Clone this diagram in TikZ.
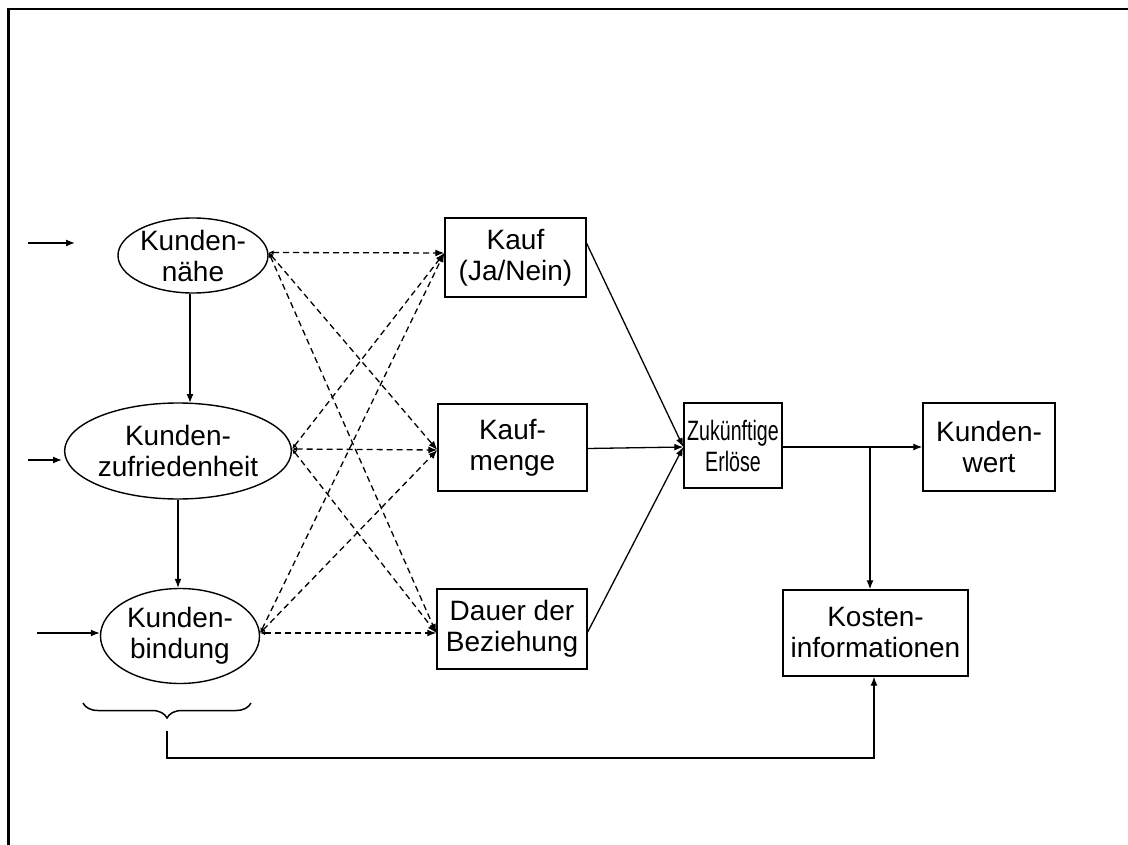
\documentclass[tikz,border=0pt]{standalone}
\usepackage{fontspec}
\setmainfont{Liberation Sans}
\usetikzlibrary{arrows.meta,shapes.geometric,decorations.pathreplacing}
\begin{document}
\begin{tikzpicture}[x=1pt,y=-1pt,
  every node/.style={font=\fontsize{28}{31}\selectfont, align=center, inner sep=0pt},
  oval/.style={draw, ellipse, line width=1.4pt},
  box/.style={draw, rectangle, line width=1.4pt},
  conn/.style={line width=1.3pt, -{Latex[length=9pt,width=7pt]}},
  dconn/.style={line width=1.3pt, dash pattern=on 6pt off 4pt,
    {Latex[length=5pt,width=4.5pt]}-{Latex[length=9pt,width=7pt]}}
]
\useasboundingbox (0,0) rectangle (1128,845);
% frame edges
\draw[line width=3pt] (8,845) -- (8,9);
\draw[line width=2.5pt] (6.5,9) -- (1128,9);

% drivers
\node[oval, minimum width=150pt, minimum height=75pt] (nah) at (193,255.5) {Kunden-\\nähe};
\node[oval, minimum width=197pt, minimum height=96pt] (zuf) at (178,451) {Kunden-\\zufriedenheit};
\node[oval, minimum width=159pt, minimum height=95pt] (bin) at (180,636) {Kunden-\\bindung};

% outcome boxes
\node[box, minimum width=141pt, minimum height=79pt] (kauf) at (515.5,257.5) {Kauf\\(Ja/Nein)};
\node[box, minimum width=149pt, minimum height=87pt] (menge) at (512.5,447.5) {Kauf-\\menge};
\node[box, minimum width=150pt, minimum height=80pt] (dauer) at (512,629) {Dauer der\\Beziehung};
\node[box, minimum width=98pt, minimum height=85pt] (erl) at (733,445.5) {\scalebox{0.7}[1]{Zukünftige}\\\scalebox{0.7}[1]{Erlöse}};
\node[box, minimum width=132pt, minimum height=88pt] (wert) at (989,447) {Kunden-\\wert};
\node[box, minimum width=185pt, minimum height=86pt] (kost) at (875.5,633) {Kosten-\\informationen};

% incoming arrows
\coordinate (in1) at (28,243);
\coordinate (in2) at (28,460);
\coordinate (in3) at (37,633);
\draw[conn] (in1) -- (75,243);
\draw[conn] (in2) -- (62,460);
\draw[conn] (in3) -- (bin.west |- in3);

% vertical chain
\draw[conn] (nah.south -| 190,0) -- (190,403);
\draw[conn] (zuf.south) -- (zuf.south |- bin.north);

% dashed influences
\foreach \s/\sy in {nah/3, zuf/2, bin/3}{
  \draw[dconn] ([yshift=\sy pt]\s.east) -- ([yshift=4.5pt]kauf.west);
  \draw[dconn] ([yshift=\sy pt]\s.east) -- ([yshift=-2.5pt]menge.west);
  \draw[dconn] ([yshift=\sy pt]\s.east) -- ([yshift=-4pt]dauer.west);
}

% revenue aggregation
\draw[conn] ([yshift=14pt]kauf.east) -- ([yshift=-1.5pt]erl.west);
\draw[conn] ([yshift=-1.5pt]menge.east |- 0,447) -- ([yshift=-1.5pt]erl.west);
\draw[conn] ([yshift=-3pt]dauer.east) -- ([yshift=-1.5pt]erl.west);

% customer value and costs
\coordinate (split) at (870,447);
\draw[conn] (erl.east |- split) -- (wert.west |- split);
\draw[conn] (split) -- (split |- kost.north);

% brace over the drivers and feedback to costs
\draw[line width=1.5pt, decorate, decoration={brace, mirror, amplitude=15pt, aspect=0.5}] (83,703) -- (251,703);
\coordinate (btip) at (167,731);
\coordinate (bend) at (874,758);
\draw[conn] (btip) -- (167,758) -- (bend) -- (bend |- kost.south);
\end{tikzpicture}
\end{document}
